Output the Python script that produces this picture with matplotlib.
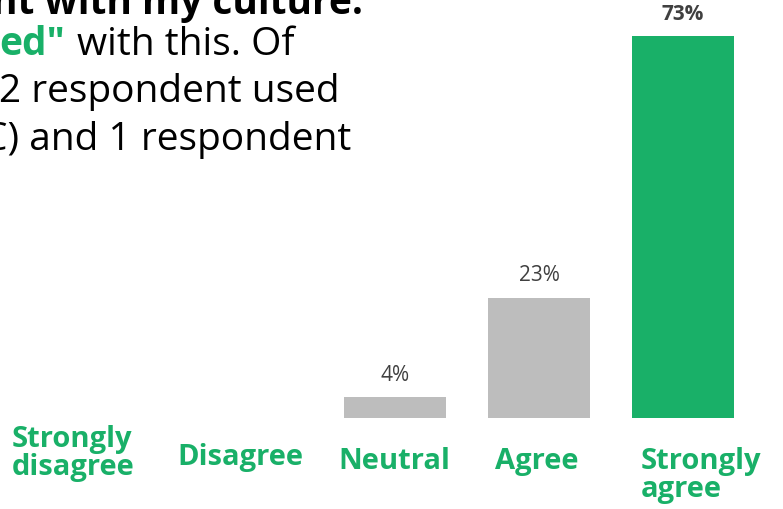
import matplotlib
matplotlib.use("Agg")
import matplotlib.pyplot as plt

W, H = 783, 510

categories = ["Strongly\ndisagree", "Disagree", "Neutral", "Agree", "Strongly\nagree"]
values = [0, 0, 4, 23, 73]
value_labels = ["", "", "4%", "23%", "73%"]

GREEN = "#19b068"
GREY = "#bdbdbd"
DARK = "#404040"
bar_colors = [GREY, GREY, GREY, GREY, GREEN]

plt.rcParams["font.family"] = ["Open Sans", "DejaVu Sans"]

fig = plt.figure(figsize=(W / 100, H / 100), dpi=100)
fig.patch.set_facecolor("white")


def px(x, y):
    """pixel position (from top-left) -> figure fraction"""
    return x / W, 1 - y / H


# bar area: baseline sits 91 px above the bottom edge
ax = fig.add_axes([0, 91 / H, 1, (H - 91) / H])
ax.set_xlim(-107 / 144, (W - 107) / 144)
ax.set_ylim(0, 419 / 5.23)
ax.axis("off")

xs = list(range(len(categories)))
bars = ax.bar(xs, values, width=0.708, color=bar_colors, linewidth=0)

for b, lab, v in zip(bars, value_labels, values):
    if not lab:
        continue
    ax.annotate(lab, (b.get_x() + b.get_width() / 2, v),
                xytext=(0, 9), textcoords="offset points",
                ha="center", va="bottom", fontsize=15, color=DARK,
                fontweight="bold" if v == max(values) else "normal")

# category names under the bars (left edge, first baseline in px)
label_pos = [(12, 447), (177, 465), (338, 469), (495, 469), (641, 469)]
for name, (lx, ly) in zip(categories, label_pos):
    for k, line in enumerate(name.split("\n")):
        fig.text(*px(lx, ly + k * 28), line, ha="left", va="baseline",
                 fontsize=21, fontweight="bold", color=GREEN)

# paragraph text in the upper left
para = dict(fontsize=28, color="black", va="baseline")
fig.text(*px(363, 14), "ent with my culture.", ha="right", fontweight="bold", **para)
fig.text(*px(65, 55), 'ed"', ha="right", fontweight="bold",
         fontsize=28, color=GREEN, va="baseline")
fig.text(*px(77, 55), "with this. Of", ha="left", **para)
fig.text(*px(340, 102), "2 respondent used", ha="right", **para)
fig.text(*px(351, 150), "C) and 1 respondent", ha="right", **para)

fig.savefig("out.png", dpi=100, facecolor="white")
